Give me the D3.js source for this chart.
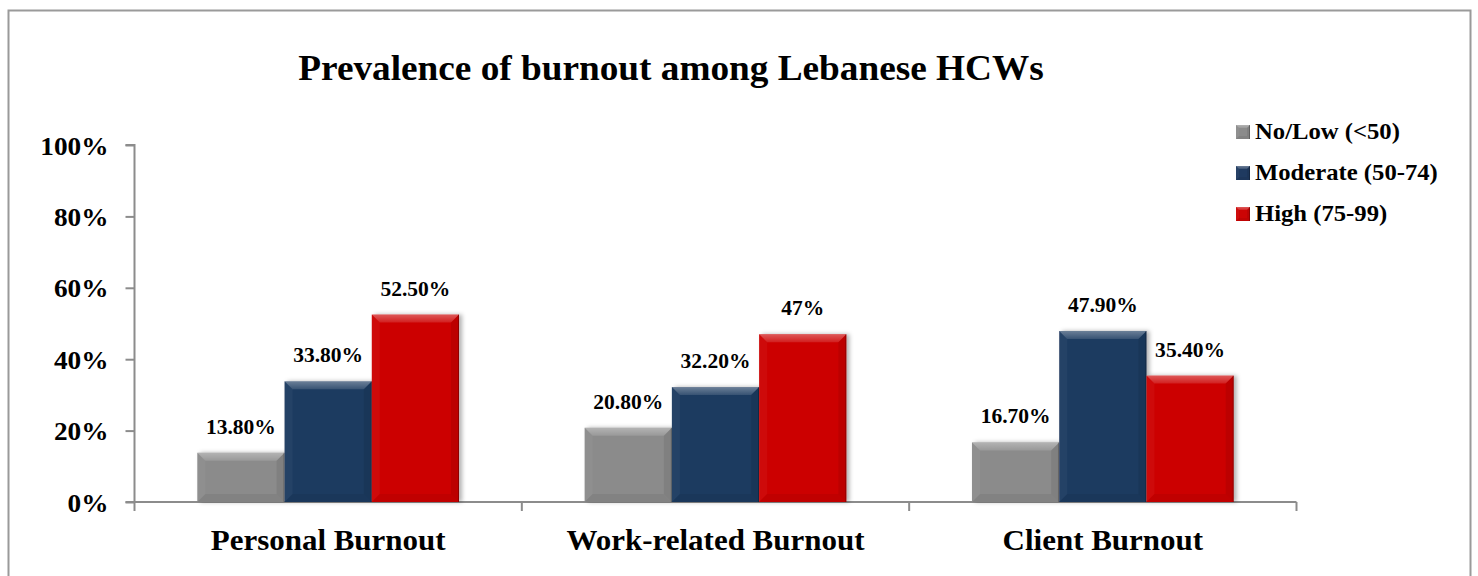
<!DOCTYPE html>
<html>
<head>
<meta charset="utf-8">
<script src="https://cdn.jsdelivr.net/npm/d3@7"></script>
<style>
  body { margin: 0; background: #fff; }
  text { font-family: "Liberation Serif", "Times New Roman", serif; font-weight: bold; fill: #000; }
</style>
</head>
<body>
<svg id="chart" width="1478" height="576"></svg>
<script>
//------------------------------------------------------------------------------
//Data
//------------------------------------------------------------------------------
let categories = ["Personal Burnout", "Work-related Burnout", "Client Burnout"];
let seriesNames = ["No/Low (<50)", "Moderate (50-74)", "High (75-99)"];
let noLow    = [13.8, 20.8, 16.7];
let moderate = [33.8, 32.2, 47.9];
let high     = [52.5, 47.0, 35.4];
let valueLabels = [
    ["13.80%", "33.80%", "52.50%"],
    ["20.80%", "32.20%", "47%"],
    ["16.70%", "47.90%", "35.40%"]
];
let yTicks = [0, 20, 40, 60, 80, 100];
let colors = ["#8b8b8b", "#1f3a60", "#cc0404"];

let seriesValues = [noLow, moderate, high];
let SX = 1.05; // text in the picture is a bit wide

main()

//------------------------------------------------------------------------------
//Main
//------------------------------------------------------------------------------
function main()
{
    var svg = d3.select("#chart");

    // outer frame
    svg.append("rect")
        .attr("x", 8.5).attr("y", 10.5)
        .attr("width", 1462).attr("height", 600)
        .attr("fill", "none").attr("stroke", "#9a9a9a").attr("stroke-width", 2);

    var defs = svg.append("defs");
    var f = defs.append("filter").attr("id", "shadow")
        .attr("x", "-20%").attr("y", "-20%").attr("width", "140%").attr("height", "140%");
    f.append("feDropShadow").attr("dx", 3).attr("dy", 0).attr("stdDeviation", 2)
        .attr("flood-color", "#000").attr("flood-opacity", 0.3);
    var lg = defs.append("linearGradient").attr("id", "topShine")
        .attr("x1", 0).attr("y1", 0).attr("x2", 0).attr("y2", 1);
    lg.append("stop").attr("offset", "0%").attr("stop-color", "#fff").attr("stop-opacity", 0.35);
    lg.append("stop").attr("offset", "100%").attr("stop-color", "#fff").attr("stop-opacity", 0.12);

    var left = 134.5, right = 1296.5, top = 145, bottom = 502;

    var x0 = d3.scaleBand().domain(categories).range([left, right]).padding(0);
    var x1 = d3.scaleBand().domain(seriesNames).range([0, x0.bandwidth()])
        .paddingInner(0).paddingOuter(0.72);
    var y = d3.scaleLinear().domain([0, 100]).range([bottom, top]);

    // title
    addText(svg, "Prevalence of burnout among Lebanese HCWs", 671, 80, 35.5, "middle");

    // y axis
    var yAxis = svg.append("g")
        .attr("transform", "translate(" + left + ",0)")
        .call(d3.axisLeft(y).tickValues(yTicks).tickSize(9).tickPadding(17)
            .tickFormat(d => d + "%"));
    yAxis.select(".domain").attr("stroke", "#8c8c8c").attr("stroke-width", 2)
        .attr("d", "M-9," + top + "H0V" + bottom);
    yAxis.selectAll(".tick line").attr("stroke", "#8c8c8c").attr("stroke-width", 2);
    yAxis.selectAll(".tick text")
        .style("font-size", "26px")
        .attr("dy", "0.35em")
        .attr("x", -26 / SX)
        .attr("transform", "scale(" + SX + ",1)");

    // x axis
    var xAxis = svg.append("g")
        .attr("transform", "translate(0," + bottom + ")")
        .call(d3.axisBottom(x0).tickSize(0).tickPadding(0));
    xAxis.select(".domain").attr("stroke", "#8c8c8c").attr("stroke-width", 2)
        .attr("d", "M" + (left - 9) + ",0H" + right);
    xAxis.selectAll(".tick text")
        .style("font-size", "29.5px")
        .attr("y", 48).attr("dy", 0)
        .attr("transform", "scale(" + SX + ",1)")
        .each(function() {
            var t = d3.select(this.parentNode).attr("transform");
            var tx = +t.match(/translate\(([-\d.]+)/)[1];
            d3.select(this.parentNode).attr("transform", "translate(" + tx + ",0)");
        });
    var bounds = categories.map(c => x0(c)).concat([x0(categories[categories.length - 1]) + x0.bandwidth()]);
    xAxis.selectAll(".bound").data(bounds).enter().append("line")
        .attr("class", "bound")
        .attr("x1", d => d).attr("x2", d => d)
        .attr("y1", 0).attr("y2", 9)
        .attr("stroke", "#8c8c8c").attr("stroke-width", 2);

    // bars
    var rows = [];
    categories.forEach((c, ci) => {
        seriesNames.forEach((s, si) => {
            rows.push({cat: c, ser: s, si: si, value: seriesValues[si][ci], label: valueLabels[ci][si]});
        });
    });

    var bars = svg.append("g").selectAll("g.bar").data(rows).enter()
        .append("g").attr("class", "bar");

    bars.each(function(d) {
        var g = d3.select(this);
        var bx = x0(d.cat) + x1(d.ser), bw = x1.bandwidth();
        var by = y(d.value), bh = y(0) - y(d.value);
        drawBevelBar(g, bx, by, bw, bh, colors[d.si]);
        addText(g, d.label, bx + bw / 2, by - 19, 20.5, "middle");
    });

    // legend
    var legend = svg.append("g").selectAll("g").data(seriesNames).enter()
        .append("g").attr("transform", (d, i) => "translate(1236," + (139 + i * 41) + ")");
    legend.each(function(d, i) {
        var g = d3.select(this);
        drawBevelBar(g, 0, -14, 14, 14, colors[i], 3, true);
        addText(g, d, 19, 0, 23.5, "start");
    });
}

//------------------------------------------------------------------------------
//Helpers
//------------------------------------------------------------------------------
function addText(parent, str, x, y, size, anchor)
{
    return parent.append("text")
        .attr("transform", "translate(" + x + "," + y + ") scale(" + SX + ",1)")
        .attr("text-anchor", anchor)
        .style("font-size", size + "px")
        .text(str);
}

function drawBevelBar(g, x, y, w, h, color, b, noShadow)
{
    b = b || 8;
    if (h < 2 * b) b = h / 2;
    var r = g.append("rect")
        .attr("x", x).attr("y", y).attr("width", w).attr("height", h)
        .attr("fill", color);
    if (!noShadow) r.attr("filter", "url(#shadow)");

    var pts = function(arr) { return arr.map(p => p.join(",")).join(" "); };
    // top
    g.append("polygon")
        .attr("points", pts([[x, y], [x + w, y], [x + w - b, y + b], [x + b, y + b]]))
        .attr("fill", "url(#topShine)");
    // left
    g.append("polygon")
        .attr("points", pts([[x, y], [x + b, y + b], [x + b, y + h - b], [x, y + h]]))
        .attr("fill", "#fff").attr("opacity", 0.04);
    // right
    g.append("polygon")
        .attr("points", pts([[x + w, y], [x + w, y + h], [x + w - b, y + h - b], [x + w - b, y + b]]))
        .attr("fill", "#000").attr("opacity", 0.08);
    // bottom
    g.append("polygon")
        .attr("points", pts([[x, y + h], [x + w, y + h], [x + w - b, y + h - b], [x + b, y + h - b]]))
        .attr("fill", "#000").attr("opacity", 0.06);
    // thin dark edge on the right
    g.append("line")
        .attr("x1", x + w - 0.5).attr("x2", x + w - 0.5).attr("y1", y).attr("y2", y + h)
        .attr("stroke", "#000").attr("stroke-opacity", 0.25);
}
</script>
</body>
</html>
